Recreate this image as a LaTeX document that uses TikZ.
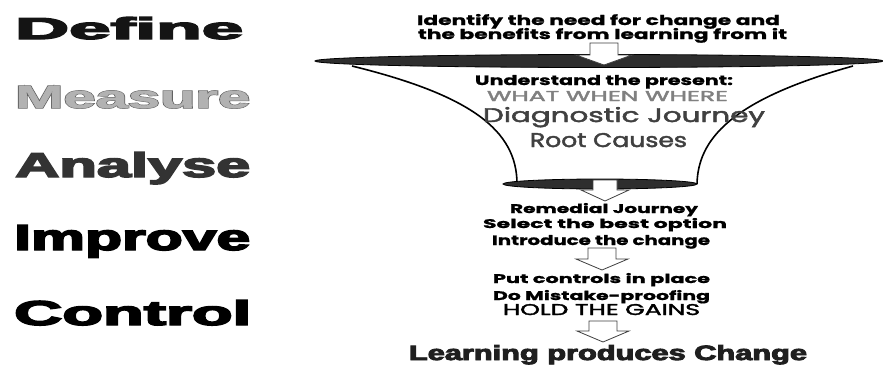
\documentclass[tikz,border=0pt]{standalone}
\usepackage{fontspec}
\setmainfont{Liberation Sans}
\newfontfamily\heavyfont[FakeBold=4]{Liberation Sans Bold}
\newfontfamily\heavyinner[FakeBold=1]{Liberation Sans Bold}
\newfontfamily\comicfont{Poppins}[BoldFeatures={FakeBold=1}]
\newfontfamily\comicmed[FakeBold=2]{Poppins}
\newcommand{\fitbox}[3]{\resizebox{#1pt}{#2pt}{#3}}
\begin{document}
\begin{tikzpicture}[x=1pt,y=-1pt,
  lbl/.style={anchor=base west,inner sep=0pt},
  txt/.style={anchor=base,inner sep=0pt},
  blockarrow/.style={fill=white,draw=black!75,line width=0.8pt,line join=miter},
  lens/.style={fill=black!82,draw=black,line width=0.8pt},
  funnelside/.style={draw=black,line width=1.6pt}]
\useasboundingbox (0,0) rectangle (883,364);
\fill[white] (0,0) rectangle (883,364);

% left labels
\node[lbl,text=black!92] (define) at (15,39) {\fitbox{228}{22}{\heavyfont Define}};
\node[lbl,text=black!62] (measure) at (15,108) {\fitbox{235}{22}{\heavyfont Measure}};
\node[lbl,text=black!30] (measurefill) at (15,108) {\fitbox{235}{22}{\heavyinner Measure}};
\node[lbl,text=black!80] (analyse) at (15,177) {\fitbox{235}{25}{\heavyfont Analyse}};
\node[lbl,text=black] (improve) at (14,250) {\fitbox{236}{25}{\heavyfont Improve}};
\node[lbl,text=black] (control) at (14,325) {\fitbox{237}{25}{\heavyfont Control}};

% funnel
\coordinate (tl) at (352,66);
\coordinate (tr) at (853,66);
\coordinate (bl) at (517,184);
\coordinate (br) at (697,184);
\fill[white] (tl) .. controls (470,95) and (517,130) .. (bl) -- (br) .. controls (698,140) and (730,100) .. (tr) -- cycle;
\draw[funnelside] (tl) .. controls (470,95) and (517,130) .. (bl);
\draw[funnelside] (tr) .. controls (730,100) and (698,140) .. (br);
\draw[lens] (599,61) ellipse [x radius=284, y radius=6.5];
\draw[lens] (600,184) ellipse [x radius=97, y radius=5];

% block arrows
\draw[blockarrow] (590,43) -- (618,43) -- (618,55) -- (632,55) -- (604,65) -- (576,55) -- (590,55) -- cycle;
\draw[blockarrow] (593,180) -- (617,180) -- (617,190) -- (629,190) -- (605,201) -- (581,190) -- (593,190) -- cycle;
\draw[blockarrow] (588,248) -- (616,248) -- (616,259) -- (628,259) -- (602,270) -- (576,259) -- (588,259) -- cycle;
\draw[blockarrow] (589,321) -- (617,321) -- (617,331) -- (629,331) -- (603,342) -- (577,331) -- (589,331) -- cycle;

% texts
\node[txt] (t1) at (598.5,25) {\fitbox{363}{11}{\comicfont\bfseries Identify the need for change and}};
\node[txt] (t2) at (602.5,39) {\fitbox{369}{11}{\comicfont\bfseries the benefits from learning from it}};
\node[txt] (t3) at (604,85) {\fitbox{258}{10}{\comicfont\bfseries Understand the present:}};
\node[txt,text=black!50] (t4) at (607.5,101) {\fitbox{241}{10}{\comicmed WHAT WHEN WHERE}};
\node[txt,text=black!75] (t5) at (624,122) {\fitbox{282}{15}{\comicmed Diagnostic Journey}};
\node[txt,text=black!75] (t6) at (608.5,147) {\fitbox{157}{14}{\comicmed Root Causes}};
\node[txt] (t7) at (604,213) {\fitbox{188}{10}{\comicfont\bfseries Remedial Journey}};
\node[txt] (t8) at (605,228) {\fitbox{244}{10}{\comicfont\bfseries Select the best option}};
\node[txt] (t9) at (601,245) {\fitbox{218}{10}{\comicfont\bfseries Introduce the change}};
\node[txt] (t10) at (601.5,283) {\fitbox{217}{10}{\comicfont\bfseries Put controls in place}};
\node[txt] (t11) at (601.5,300) {\fitbox{217}{10}{\comicfont\bfseries Do Mistake-proofing}};
\node[txt] (t12) at (601.5,315) {\fitbox{197}{11}{\comicmed HOLD THE GAINS}};
\node[txt,text=black!88] (t13) at (608,360) {\fitbox{398}{15}{\heavyfont Learning produces Change}};
\end{tikzpicture}
\end{document}
